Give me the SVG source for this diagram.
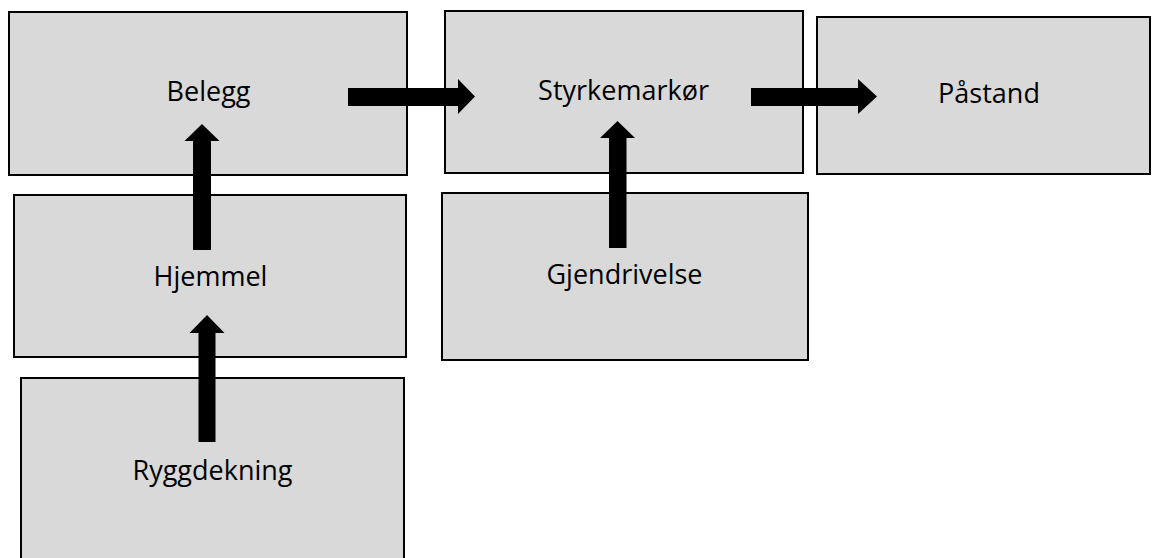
<svg xmlns="http://www.w3.org/2000/svg" width="1153" height="558" viewBox="0 0 1153 558">
  <style>
    .box { fill: #d9d9d9; stroke: #000; stroke-width: 2; }
    .label { font-family: "Open Sans", "Liberation Sans", sans-serif; font-size: 27px; fill: #000; text-anchor: middle; }
    .arrow { fill: #000; stroke: none; }
  </style>
  <rect width="1153" height="558" fill="#fff"/>

  <g id="node-belegg">
    <rect class="box" x="9" y="12" width="398" height="163"/>
    <text class="label" x="208.5" y="101">Belegg</text>
  </g>
  <g id="node-styrkemarkor">
    <rect class="box" x="445" y="11" width="358" height="162"/>
    <text class="label" x="623.5" y="100">Styrkemarkør</text>
  </g>
  <g id="node-pastand">
    <rect class="box" x="817" y="17" width="333" height="157"/>
    <text class="label" x="989" y="103">Påstand</text>
  </g>
  <g id="node-hjemmel">
    <rect class="box" x="14" y="195" width="392" height="162"/>
    <text class="label" x="210.5" y="286">Hjemmel</text>
  </g>
  <g id="node-gjendrivelse">
    <rect class="box" x="442" y="193" width="366" height="167"/>
    <text class="label" x="624.5" y="284">Gjendrivelse</text>
  </g>
  <g id="node-ryggdekning">
    <rect class="box" x="21" y="378" width="383" height="200"/>
    <text class="label" x="212.5" y="480">Ryggdekning</text>
  </g>

  <g id="connectors">
    <!-- Hjemmel -> Belegg -->
    <polygon class="arrow" points="193,250 193,141 184.5,141 202,124 219.5,141 211,141 211,250"/>
    <!-- Ryggdekning -> Hjemmel -->
    <polygon class="arrow" points="198.5,442 198.5,333 189.5,333 207,315 224.5,333 215.5,333 215.5,442"/>
    <!-- Gjendrivelse -> Styrkemarkør -->
    <polygon class="arrow" points="609,248 609,138 600,138 617.5,121 635,138 626.5,138 626.5,248"/>
    <!-- Belegg -> Styrkemarkør -->
    <polygon class="arrow" points="348,88 458,88 458,79 475,96.5 458,114 458,106 348,106"/>
    <!-- Styrkemarkør -> Påstand -->
    <polygon class="arrow" points="751,88 858,88 858,79 877,96.5 858,114 858,106 751,106"/>
  </g>
</svg>
